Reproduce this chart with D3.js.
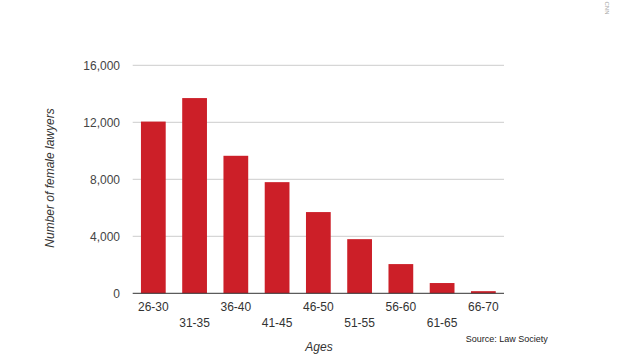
<!DOCTYPE html>
<html><head><meta charset="utf-8">
<script src="https://cdn.jsdelivr.net/npm/d3@7"></script>
<style>body{margin:0;background:#fff}svg{display:block}text{font-family:"Liberation Sans",Arial,sans-serif}</style>
</head><body><svg id="c" width="640" height="358"></svg>
<script>
const categories = ["26-30","31-35","36-40","41-45","46-50","51-55","56-60","61-65","66-70"];
const values = [12050, 13700, 9650, 7800, 5700, 3800, 2050, 720, 150];
const yTicks = [0, 4000, 8000, 12000, 16000];

const svg = d3.select("#c");
const L = 132.7, R = 504, T = 65.3, B = 293.3;
const x = d3.scaleBand().domain(categories).range([L, R]).paddingInner(0.4).paddingOuter(0.2);
const y = d3.scaleLinear().domain([0, 16000]).range([B, T]);

// gridlines
svg.append("g").selectAll("line").data(yTicks.filter(d => d > 0)).join("line")
  .attr("x1", L).attr("x2", R).attr("y1", d => y(d)).attr("y2", d => y(d))
  .attr("stroke", "#cccccc").attr("stroke-width", 1);

// y labels
const fmt = d3.format(",");
svg.append("g").selectAll("text").data(yTicks).join("text")
  .attr("x", 120).attr("y", d => y(d)).attr("dy", "0.35em")
  .attr("text-anchor", "end").attr("font-size", 12).attr("fill", "#444")
  .text(d => fmt(d));

// bars
svg.append("g").selectAll("rect").data(values).join("rect")
  .attr("x", (d, i) => x(categories[i])).attr("width", x.bandwidth())
  .attr("y", d => y(d)).attr("height", d => B - y(d))
  .attr("fill", "#cc1f28");

// baseline
svg.append("line").attr("x1", L).attr("x2", R).attr("y1", B).attr("y2", B)
  .attr("stroke", "#333").attr("stroke-width", 1);

// x labels alternating
svg.append("g").selectAll("text").data(categories).join("text")
  .attr("x", d => x(d) + x.bandwidth() / 2)
  .attr("y", (d, i) => i % 2 === 0 ? 306.7 : 322.7).attr("dy", "0.35em")
  .attr("text-anchor", "middle").attr("font-size", 12).attr("fill", "#333")
  .text(d => d);

// axis titles
svg.append("text").attr("transform", "translate(50,178) rotate(-90)")
  .attr("dy", "0.35em").attr("text-anchor", "middle").attr("font-size", 12)
  .attr("font-style", "italic").attr("fill", "#333").text("Number of female lawyers");
svg.append("text").attr("x", 319).attr("y", 346.7).attr("dy", "0.35em")
  .attr("text-anchor", "middle").attr("font-size", 12).attr("font-style", "italic")
  .attr("fill", "#333").text("Ages");
svg.append("text").attr("x", 465.7).attr("y", 339).attr("dy", "0.35em")
  .attr("font-size", 9).attr("fill", "#222").text("Source: Law Society");
svg.append("text").attr("transform", "translate(607,8) rotate(90)")
  .attr("dy", "0.35em").attr("text-anchor", "middle").attr("font-size", 6)
  .attr("fill", "#aaa").text("CNN");
</script></body></html>
